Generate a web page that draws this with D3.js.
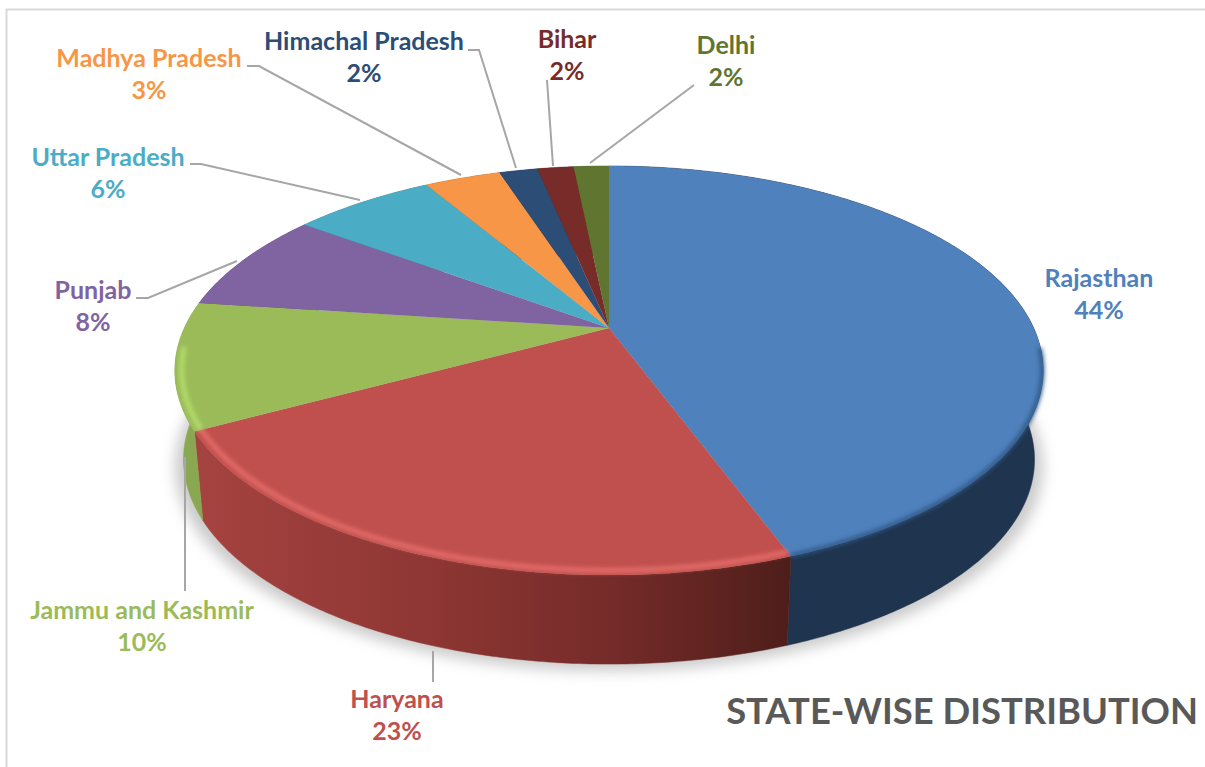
<!DOCTYPE html>
<html>
<head>
<meta charset="utf-8">
<script src="https://cdn.jsdelivr.net/npm/d3@7"></script>
<style>
  body { margin: 0; background: #fff; }
  text { font-family: Lato, "Open Sans", sans-serif; font-weight: 700; }
</style>
</head>
<body>
<script>
var w = 1205, h = 767;

// data (labels show the rounded figure)
var states = ['Rajasthan', 'Haryana', 'Jammu and Kashmir', 'Punjab', 'Uttar Pradesh',
  'Madhya Pradesh', 'Himachal Pradesh', 'Bihar', 'Delhi'];
var shares = [44.4, 22.7, 10.0, 8.0, 6.45, 3.45, 1.75, 1.65, 1.6];
var colors = ['#4f81bd', '#c0504d', '#9bbb59', '#8064a2', '#4bacc6', '#f79646', '#2c4d75', '#772c2a', '#5f7530'];
var wallColors = ['#1f344e', 'url(#wallRed)', '#8aa852', '#5f4a7a', '#38808f', '#b86f33', '#203a57', '#581f1e', '#465723'];
var rimColors = ['#2f5683', '#e46c69', '#b3dd6c', null, null, null, null, null, null];
var chartTitle = 'STATE-WISE DISTRIBUTION';

// label centre, and the leader line from the label to the pie
var labelX = [1099, 397, 142, 93, 108, 149, 364, 567, 726];
var labelY = [278, 699, 610, 290, 157, 58, 41, 39, 45];
var leaders = [
  null,
  [[433, 682], [433, 651]],
  [[185, 591], [185, 457]],
  [[136, 298], [148, 298], [237, 261]],
  [[190, 164], [201, 164], [360, 200]],
  [[247, 66], [259, 66], [461, 175]],
  [[468, 50], [479, 50], [516, 168]],
  [[547, 80], [553, 166]],
  [[694, 85], [590, 163]]
];

// the pie disc in perspective
var apex = { x: 609, y: 328 };
var persp = 0.208, rx = 424.7, ry = 195.7;
var depth = 89, bottomScale = 0.98;

// angle (0 = up, clockwise) to point on top rim
function rim(a, r) {
  r = r === undefined ? 1 : r;
  var u = r * Math.sin(a), v = -r * Math.cos(a);
  var k = 1 - persp * v;
  return [apex.x + rx * u / k, apex.y + ry * v / k];
}

// same for bottom rim
function rimLow(a) {
  var p = rim(a);
  return [apex.x + (p[0] - apex.x) * bottomScale, p[1] + depth];
}

function samples(a0, a1) {
  var n = Math.max(2, Math.ceil((a1 - a0) / 0.01));
  return d3.range(n + 1).map(function (i) { return a0 + (a1 - a0) * i / n; });
}

var line = d3.line();

var svg = d3.select('body').append('svg').attr('width', w).attr('height', h);
var defs = svg.append('defs');

function blur(id, sd) {
  defs.append('filter').attr('id', id)
    .attr('x', '-20%').attr('y', '-20%').attr('width', '140%').attr('height', '140%')
    .append('feGaussianBlur').attr('stdDeviation', sd);
}
blur('shadow', 7);
blur('soft', 2);

var red = defs.append('linearGradient').attr('id', 'wallRed')
  .attr('gradientUnits', 'userSpaceOnUse')
  .attr('x1', 198).attr('x2', 790).attr('y1', 0).attr('y2', 0);
[[0, '#a54340'], [0.4, '#8d3633'], [0.7, '#752b29'], [1, '#4e1e1a']].forEach(function (s) {
  red.append('stop').attr('offset', s[0]).attr('stop-color', s[1]);
});

// frame
svg.append('path').attr('d', line([[6.5, h], [6.5, 9.5], [w, 9.5]]))
  .attr('fill', 'none').attr('stroke', '#d9d9d9').attr('stroke-width', 2);

var arcs = d3.pie().sort(null)(shares);

// soft shadow under the disc
svg.append('path')
  .attr('d', line(samples(0, 2 * Math.PI).map(function (a) {
    var p = rimLow(a);
    return [apex.x + (p[0] - apex.x) * 1.02, p[1] + 7];
  })) + 'Z')
  .attr('fill', '#a8a8a8')
  .attr('opacity', 0.6)
  .attr('filter', 'url(#shadow)');

// side walls
svg.selectAll('path.wall')
  .data(arcs)
  .enter()
  .append('path')
  .attr('class', 'wall')
  .attr('d', function (d) {
    var as = samples(d.startAngle, d.endAngle);
    var upper = as.map(function (a) { return rim(a); });
    var lower = as.slice().reverse().map(function (a) { return rimLow(a); });
    return line(upper.concat(lower)) + 'Z';
  })
  .attr('fill', function (d, i) { return wallColors[i]; })
  .attr('stroke', function (d, i) { return wallColors[i]; })
  .attr('stroke-width', 0.5);

// top faces
svg.selectAll('path.face')
  .data(arcs)
  .enter()
  .append('path')
  .attr('class', 'face')
  .attr('d', function (d) {
    return line([[apex.x, apex.y]].concat(samples(d.startAngle, d.endAngle).map(function (a) { return rim(a); }))) + 'Z';
  })
  .attr('fill', function (d, i) { return colors[i]; });

// bevel along the front edge of the top faces
svg.selectAll('path.rim')
  .data(arcs.filter(function (d, i) { return rimColors[i]; }))
  .enter()
  .append('path')
  .attr('class', 'rim')
  .attr('d', function (d) {
    var a1 = d.index === 2 ? Math.min(d.endAngle, d.startAngle + 0.4) : d.endAngle;
    var r = d.index === 0 ? 0.998 : 0.985;
    var a0 = d.index === 0 ? Math.PI / 2 + 0.1 : d.startAngle;
    return line(samples(a0, a1).map(function (a) { return rim(a, r); }));
  })
  .attr('fill', 'none')
  .attr('stroke', function (d) { return rimColors[d.index]; })
  .attr('stroke-width', function (d) { return d.index === 0 ? 4 : 5; })
  .attr('filter', 'url(#soft)');

// leader lines
svg.selectAll('path.leader')
  .data(leaders.filter(function (d) { return d; }))
  .enter()
  .append('path')
  .attr('class', 'leader')
  .attr('d', function (d) { return line(d); })
  .attr('fill', 'none')
  .attr('stroke', '#a6a6a6')
  .attr('stroke-width', 2);

// labels
var pct = d3.format('.0f');
var labels = svg.selectAll('g.label')
  .data(states)
  .enter()
  .append('g')
  .attr('class', 'label')
  .attr('text-anchor', 'middle')
  .attr('font-size', 25)
  .attr('fill', function (d, i) { return colors[i]; });

labels.append('text')
  .attr('x', function (d, i) { return labelX[i]; })
  .attr('y', function (d, i) { return labelY[i]; })
  .attr('dy', '0.35em')
  .text(function (d) { return d; });

labels.append('text')
  .attr('x', function (d, i) { return labelX[i]; })
  .attr('y', function (d, i) { return labelY[i] + 32; })
  .attr('dy', '0.35em')
  .text(function (d, i) { return pct(shares[i]) + '%'; });

svg.append('text')
  .attr('x', 1198)
  .attr('y', 711)
  .attr('dy', '0.35em')
  .attr('text-anchor', 'end')
  .attr('font-size', 36.4)
  .attr('fill', '#595959')
  .text(chartTitle);
</script>
</body>
</html>
